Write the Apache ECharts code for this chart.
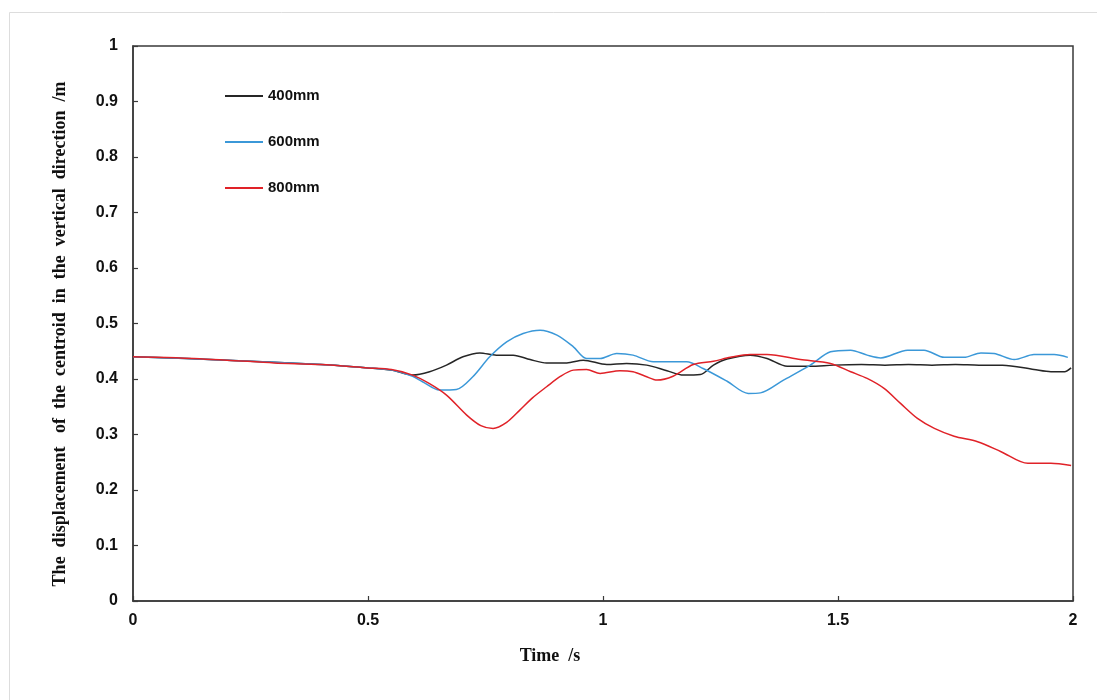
<!DOCTYPE html>
<html>
<head>
<meta charset="utf-8">
<script src="https://cdn.jsdelivr.net/npm/echarts@6/dist/echarts.min.js"></script>
<style>html,body{margin:0;padding:0;background:#fff;}#c{width:1097px;height:700px;}</style>
</head>
<body>
<div id="c"></div>
<script>
const seriesNames = ['400mm', '600mm', '800mm'];
const xTickLabels = ['0', '0.5', '1', '1.5', '2'];

const t400 = [0, 0.2, 0.4, 0.5, 0.55, 0.595, 0.631, 0.667, 0.702, 0.738, 0.773, 0.809, 0.845, 0.88, 0.923, 0.958, 1.008, 1.05, 1.093, 1.136, 1.171, 1.207, 1.235, 1.264, 1.313, 1.349, 1.392, 1.441, 1.49, 1.55, 1.6, 1.65, 1.7, 1.75, 1.8, 1.85, 1.917, 1.953, 1.982, 1.996];
const v400 = [0.44, 0.434, 0.426, 0.42, 0.416, 0.407, 0.413, 0.425, 0.44, 0.447, 0.443, 0.443, 0.435, 0.429, 0.429, 0.434, 0.426, 0.428, 0.425, 0.415, 0.407, 0.408, 0.425, 0.436, 0.443, 0.437, 0.423, 0.423, 0.425, 0.426, 0.425, 0.426, 0.425, 0.426, 0.425, 0.425, 0.417, 0.413, 0.413, 0.42];

const t600 = [0, 0.2, 0.4, 0.5, 0.55, 0.595, 0.616, 0.652, 0.688, 0.723, 0.759, 0.795, 0.83, 0.866, 0.902, 0.937, 0.965, 0.994, 1.029, 1.064, 1.107, 1.178, 1.213, 1.264, 1.309, 1.335, 1.384, 1.441, 1.484, 1.527, 1.562, 1.591, 1.648, 1.683, 1.726, 1.768, 1.804, 1.832, 1.875, 1.917, 1.96, 1.989];
const v600 = [0.44, 0.434, 0.426, 0.42, 0.416, 0.405, 0.395, 0.38, 0.381, 0.404, 0.44, 0.467, 0.482, 0.488, 0.479, 0.458, 0.437, 0.437, 0.446, 0.443, 0.431, 0.431, 0.419, 0.396, 0.374, 0.375, 0.398, 0.425, 0.449, 0.452, 0.443, 0.438, 0.452, 0.452, 0.439, 0.439, 0.447, 0.446, 0.435, 0.444, 0.444, 0.439];

const t800 = [0, 0.1, 0.2, 0.3, 0.4, 0.5, 0.55, 0.595, 0.63, 0.667, 0.71, 0.74, 0.766, 0.795, 0.823, 0.85, 0.88, 0.91, 0.937, 0.965, 0.994, 1.036, 1.064, 1.09, 1.115, 1.149, 1.192, 1.235, 1.271, 1.313, 1.349, 1.42, 1.484, 1.527, 1.562, 1.598, 1.633, 1.669, 1.705, 1.747, 1.797, 1.847, 1.904, 1.953, 1.996];
const v800 = [0.44, 0.438, 0.434, 0.429, 0.426, 0.42, 0.417, 0.407, 0.392, 0.371, 0.335, 0.316, 0.311, 0.322, 0.344, 0.366, 0.386, 0.405, 0.416, 0.417, 0.41, 0.415, 0.413, 0.405, 0.398, 0.405, 0.426, 0.432, 0.439, 0.444, 0.444, 0.435, 0.428, 0.413, 0.401, 0.383, 0.356, 0.329, 0.311, 0.297, 0.287, 0.269, 0.248, 0.248, 0.244];

const colors = ['#262626', '#3b98d8', '#e02228'];
const pairs = (t, v) => t.map((x, i) => [x, v[i]]);

const chart = echarts.init(document.getElementById('c'), null, {renderer: 'canvas'});
const axisColor = '#3a3a3a';
const tickFont = {fontFamily: 'Liberation Sans, Arial, sans-serif', fontWeight: 'bold', fontSize: 16, color: '#111'};
const titleFont = {fontFamily: 'Liberation Serif, Times New Roman, serif', fontWeight: 'bold', fontSize: 18, fill: '#111'};

chart.setOption({
  animation: false,
  backgroundColor: '#fff',
  grid: {left: 133, right: 24, top: 46, bottom: 99, show: true, borderColor: axisColor, borderWidth: 1.5, backgroundColor: 'transparent'},
  legend: {
    data: seriesNames,
    orient: 'vertical',
    left: 225,
    top: 88,
    padding: 0,
    itemWidth: 38,
    itemHeight: 2,
    itemGap: 30,
    icon: 'rect',
    textStyle: {fontFamily: 'Liberation Sans, Arial, sans-serif', fontWeight: 'bold', fontSize: 15, color: '#111', lineHeight: 16}
  },
  xAxis: {
    type: 'value', min: 0, max: 2, interval: 0.5,
    axisLine: {show: true, lineStyle: {color: axisColor, width: 1.5}},
    axisTick: {show: true, inside: true, length: 5, lineStyle: {color: axisColor, width: 1.2}},
    splitLine: {show: false},
    axisLabel: Object.assign({margin: 12, formatter: v => xTickLabels[Math.round(v / 0.5)]}, tickFont)
  },
  yAxis: {
    type: 'value', min: 0, max: 1, interval: 0.1,
    axisLine: {show: true, lineStyle: {color: axisColor, width: 1.5}},
    axisTick: {show: true, inside: true, length: 5, lineStyle: {color: axisColor, width: 1.2}},
    splitLine: {show: false},
    axisLabel: Object.assign({margin: 15, formatter: v => (Math.round(v * 10) / 10).toString()}, tickFont)
  },
  graphic: [
    {type: 'line', shape: {x1: 9.5, y1: 12.5, x2: 1097, y2: 12.5}, style: {stroke: '#dddddd', lineWidth: 1}},
    {type: 'line', shape: {x1: 9.5, y1: 12.5, x2: 9.5, y2: 700}, style: {stroke: '#dddddd', lineWidth: 1}},
    {type: 'text', x: 550, y: 656, style: Object.assign({text: 'Time  /s', textAlign: 'center', textVerticalAlign: 'middle'}, titleFont)},
    {type: 'text', x: 60, y: 334, rotation: Math.PI / 2, style: Object.assign({text: 'The  displacement   of  the  centroid  in  the  vertical  direction  /m', textAlign: 'center', textVerticalAlign: 'middle'}, titleFont)}
  ],
  series: [
    {name: seriesNames[0], type: 'line', data: pairs(t400, v400), smooth: 0.3, showSymbol: false, lineStyle: {color: colors[0], width: 1.5}, itemStyle: {color: colors[0]}, z: 2},
    {name: seriesNames[1], type: 'line', data: pairs(t600, v600), smooth: 0.3, showSymbol: false, lineStyle: {color: colors[1], width: 1.5}, itemStyle: {color: colors[1]}, z: 3},
    {name: seriesNames[2], type: 'line', data: pairs(t800, v800), smooth: 0.3, showSymbol: false, lineStyle: {color: colors[2], width: 1.5}, itemStyle: {color: colors[2]}, z: 4}
  ]
});
</script>
</body>
</html>
